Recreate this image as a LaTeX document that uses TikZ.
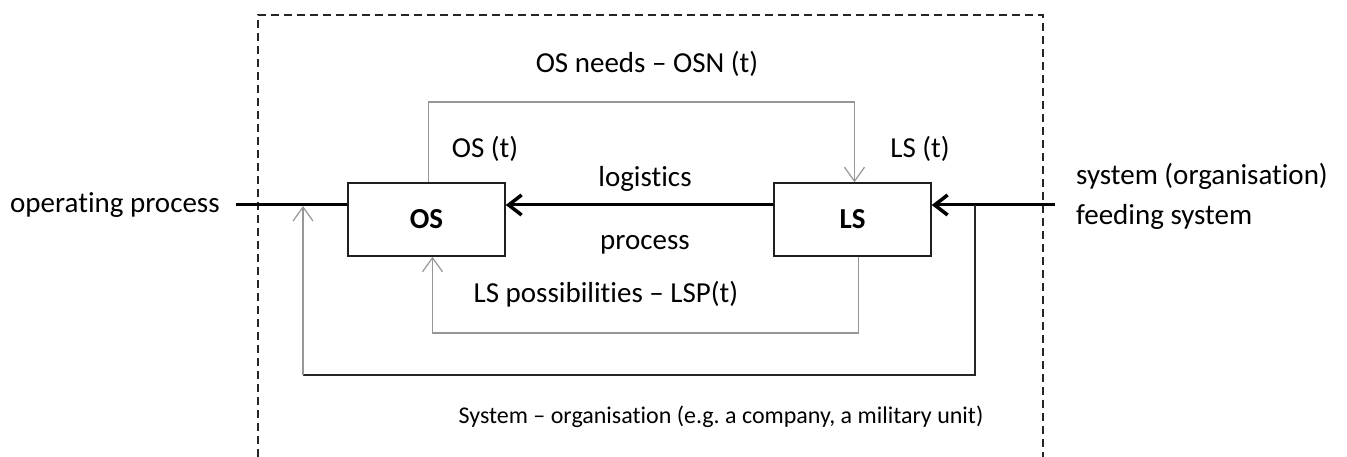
\documentclass[tikz,border=0pt]{standalone}
\usepackage{fontspec}
\setmainfont{Carlito}[Ligatures=NoCommon]
\usetikzlibrary{arrows.meta}
\definecolor{linegray}{RGB}{150,150,150}
\definecolor{boxline}{RGB}{30,30,30}
\tikzset{
  lbl/.style={anchor=base, inner sep=0pt, font=\fontsize{29}{34}\selectfont},
  caplbl/.style={anchor=base, inner sep=0pt, font=\fontsize{24}{28}\selectfont},
  blk/.style={draw=boxline, line width=1.5pt, minimum width=157pt, minimum height=73pt, inner sep=0pt, font=\fontsize{29}{34}\selectfont\bfseries},
  mainline/.style={line width=3pt, black},
  bigtip/.style={-{Straight Barb[length=13pt,width=20pt,line width=3.5pt]}},
  grayline/.style={draw=linegray, line width=1.2pt},
  graytip/.style={-{Straight Barb[length=14pt,width=20pt,line width=1.2pt]}},
  loopline/.style={draw=black!85, line width=1.4pt},
  frame/.style={draw=black!85, line width=1.3pt, dash pattern=on 8pt off 5pt}
}
\begin{document}
\begin{tikzpicture}[x=1pt,y=-1pt]
\useasboundingbox (0,0) rectangle (1347,457);
% frame
\coordinate (fbl) at (258,457);
\coordinate (ftl) at (258,15);
\coordinate (ftr) at (1043,15);
\coordinate (fbr) at (1043,457);
\draw[frame] (fbl) -- (ftl) -- (ftr) -- (fbr);
% blocks
\node[blk] (os) at (426.5,219.5) {OS};
\node[blk] (ls) at (852.5,219.5) {LS};
% main line
\coordinate (inL) at (236,205);
\coordinate (inR) at (1055,205);
\draw[mainline] (inL) -- (inL -| os.west);
\draw[mainline, bigtip] (inL -| ls.west) -- (inL -| os.east);
\draw[mainline, bigtip] (inR) -- (inR -| ls.east);
% OS needs
\coordinate (osnTop) at (0,102);
\draw[grayline, graytip] ([xshift=2pt]os.north) -- ([xshift=2pt]os.north |- osnTop) -| ([xshift=2pt]ls.north);
% LS possibilities
\coordinate (lspBot) at (0,333);
\draw[grayline, graytip] ([xshift=6pt]ls.south) -- ([xshift=6pt]ls.south |- lspBot) -| ([xshift=6pt]os.south);
% outer loop
\coordinate (tap) at (975,205);
\coordinate (loopBL) at (303,375);
\coordinate (loopEnd) at (303,206);
\draw[loopline] (tap) |- (loopBL);
\draw[grayline, graytip] (loopBL) -- (loopEnd);
% labels
\node[lbl] (osn) at (647,73) {OS needs – OSN (t)};
\node[lbl] (ost) at (485,158) {OS (t)};
\node[lbl] (lst) at (920,158) {LS (t)};
\node[lbl] (logi) at (645,187) {logistics};
\node[lbl] (proc) at (645,250) {process};
\node[lbl] (lsp) at (606,302) {LS possibilities – LSP(t)};
\node[caplbl] (cap) at (721,423) {System – organisation (e.g.\ a company, a military unit)};
\node[lbl, anchor=base west] (opp) at (10,213) {operating process};
\node[lbl, anchor=base west] (sys1) at (1076,185) {system (organisation)};
\node[lbl, anchor=base west] (sys2) at (1076,225) {feeding system};
\end{tikzpicture}
\end{document}
